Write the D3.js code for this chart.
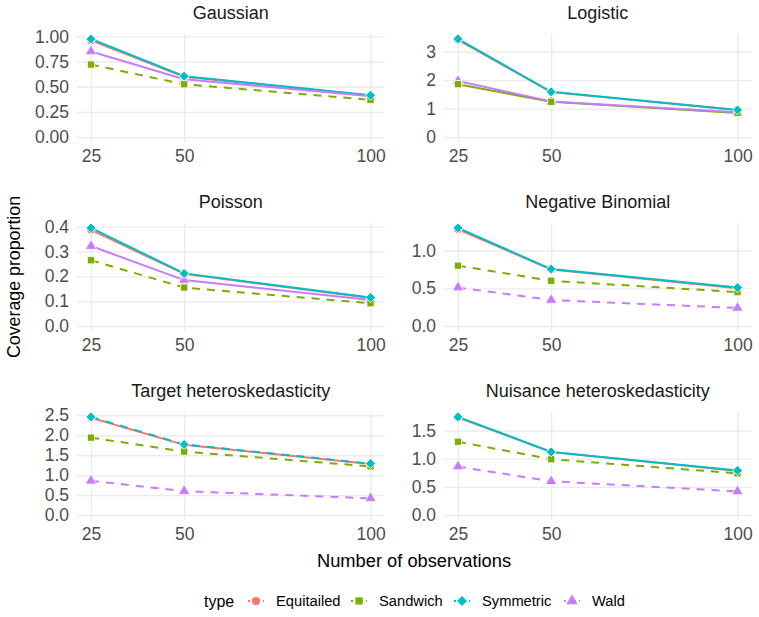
<!DOCTYPE html>
<html>
<head>
<meta charset="utf-8">
<script src="https://cdn.jsdelivr.net/npm/d3@7"></script>
<style>
  body { margin: 0; background: #fff; }
  svg { font-family: "Liberation Sans", Arial, sans-serif; }
  .grid line { stroke: #ebebeb; stroke-width: 1.4; }
  .grid .domain { display: none; }
  .grid text { fill: #4d4d4d; font-size: 17.5px; }
</style>
</head>
<body>
<svg width="759" height="617"></svg>
<script>
// data
const sampleSizes = [25, 50, 100];
const panelTitles = ["Gaussian", "Logistic", "Poisson", "Negative Binomial",
                     "Target heteroskedasticity", "Nuisance heteroskedasticity"];
const types = ["Equitailed", "Sandwich", "Symmetric", "Wald"];

// one row per panel, values at n = 25, 50, 100
const equitailedValues = [
    [0.96, 0.60, 0.41],
    [3.42, 1.58, 0.95],
    [0.387, 0.210, 0.113],
    [1.28, 0.75, 0.50],
    [2.44, 1.76, 1.28],
    [1.73, 1.12, 0.78]
];
const sandwichValues = [
    [0.72, 0.525, 0.37],
    [1.86, 1.24, 0.85],
    [0.265, 0.155, 0.092],
    [0.80, 0.60, 0.45],
    [1.94, 1.59, 1.22],
    [1.30, 0.99, 0.74]
];
const symmetricValues = [
    [0.975, 0.605, 0.415],
    [3.45, 1.59, 0.955],
    [0.395, 0.212, 0.115],
    [1.30, 0.755, 0.51],
    [2.46, 1.77, 1.29],
    [1.74, 1.12, 0.79]
];
const waldValues = [
    [0.85, 0.575, 0.405],
    [1.97, 1.25, 0.87],
    [0.322, 0.185, 0.105],
    [0.51, 0.345, 0.24],
    [0.86, 0.60, 0.42],
    [0.86, 0.60, 0.42]
];
// linetype group per panel (Equitailed, Sandwich, Symmetric, Wald)
const lineGroups = [
    ["solid", "dashed", "solid", "solid"],
    ["solid", "solid", "solid", "solid"],
    ["solid", "dashed", "solid", "solid"],
    ["solid", "dashed", "solid", "dashed"],
    ["solid", "dashed", "dashed", "dashed"],
    ["solid", "dashed", "solid", "dashed"]
];
const yTicks = [
    [0, 0.25, 0.5, 0.75, 1],
    [0, 1, 2, 3],
    [0, 0.1, 0.2, 0.3, 0.4],
    [0, 0.5, 1.0],
    [0, 0.5, 1, 1.5, 2, 2.5],
    [0, 0.5, 1, 1.5]
];
const yFormats = [".2f", "d", ".1f", ".1f", ".1f", ".1f"];

const seriesValues = [equitailedValues, sandwichValues, symmetricValues, waldValues];
const colors = ["#F8766D", "#7CAE00", "#00BFC4", "#C77CFF"];
const shapes = [d3.symbolCircle, d3.symbolSquare, d3.symbolSquare, d3.symbolTriangle];
const shapeSizes = [52, 52, 50, 56];
const shapeRotate = [0, 0, 45, 0];
const drawOrder = [3, 0, 1, 2];

const svg = d3.select("svg");
const colLeft = [77, 444];
const rowTop = [34, 223, 412];
const W = 307.5, H = 108;

panelTitles.forEach((title, p) => {
    const left = colLeft[p % 2], top = rowTop[Math.floor(p / 2)];
    const g = svg.append("g").attr("transform", `translate(${left},${top})`);

    const allVals = seriesValues.flatMap(s => s[p]).concat([0]);
    const lo = d3.min(allVals), hi = d3.max(allVals);
    const pad = (hi - lo) * 0.05;
    const x = d3.scaleLinear().domain([25 - 3.75, 100 + 3.75]).range([0, W]);
    const y = d3.scaleLinear().domain([lo - pad, hi + pad]).range([H, 0]);

    g.append("g").attr("class", "grid")
        .call(d3.axisLeft(y).tickValues(yTicks[p]).tickFormat(d3.format(yFormats[p]))
            .tickSize(-W).tickPadding(8));
    const xAxis = g.append("g").attr("class", "grid").attr("transform", `translate(0,${H})`)
        .call(d3.axisBottom(x).tickValues(sampleSizes).tickSize(H).tickPadding(8));
    xAxis.selectAll("line").attr("y1", -H).attr("y2", 0);
    xAxis.selectAll("text").attr("y", 8);

    g.append("text")
        .attr("x", W / 2).attr("y", -15.5)
        .attr("text-anchor", "middle")
        .attr("font-size", 18).attr("fill", "#1a1a1a")
        .text(title);

    const line = d3.line().x((d, i) => x(sampleSizes[i])).y(d => y(d));
    types.forEach((t, k) => {
        g.append("path")
            .attr("d", line(seriesValues[k][p]))
            .attr("fill", "none")
            .attr("stroke", colors[k])
            .attr("stroke-width", 2)
            .attr("stroke-dasharray", lineGroups[p][k] === "dashed" ? "8,7" : null);
    });
    drawOrder.forEach(k => {
        g.selectAll(null).data(seriesValues[k][p]).enter().append("path")
            .attr("d", d3.symbol().type(shapes[k]).size(shapeSizes[k]))
            .attr("transform", (d, i) => `translate(${x(sampleSizes[i])},${y(d)}) rotate(${shapeRotate[k]})`)
            .attr("fill", colors[k])
            .attr("stroke", "#fff").attr("stroke-width", 0.8);
    });
});

svg.append("text")
    .attr("x", 414).attr("y", 567)
    .attr("text-anchor", "middle").attr("font-size", 18.3).attr("fill", "#000")
    .text("Number of observations");
svg.append("text")
    .attr("transform", "translate(20,277) rotate(-90)")
    .attr("text-anchor", "middle").attr("font-size", 17.8).attr("fill", "#000")
    .text("Coverage proportion");

// legend
const legend = svg.append("g").attr("transform", "translate(0,601)");
legend.append("text").attr("x", 204).attr("y", 5.5)
    .attr("font-size", 16).text("type");
const keyX = [256, 359, 462, 572];
types.forEach((t, k) => {
    const kg = legend.append("g").attr("transform", `translate(${keyX[k]},0)`);
    kg.append("line").attr("x1", -8).attr("x2", 8)
        .attr("stroke", colors[k]).attr("stroke-width", 2).attr("stroke-dasharray", "2,3");
    kg.append("path")
        .attr("d", d3.symbol().type(shapes[k]).size(shapeSizes[k]))
        .attr("transform", `rotate(${shapeRotate[k]})`)
        .attr("fill", colors[k]);
    kg.append("text").attr("x", 20).attr("y", 5)
        .attr("font-size", 14.7).text(t);
});
</script>
</body>
</html>
